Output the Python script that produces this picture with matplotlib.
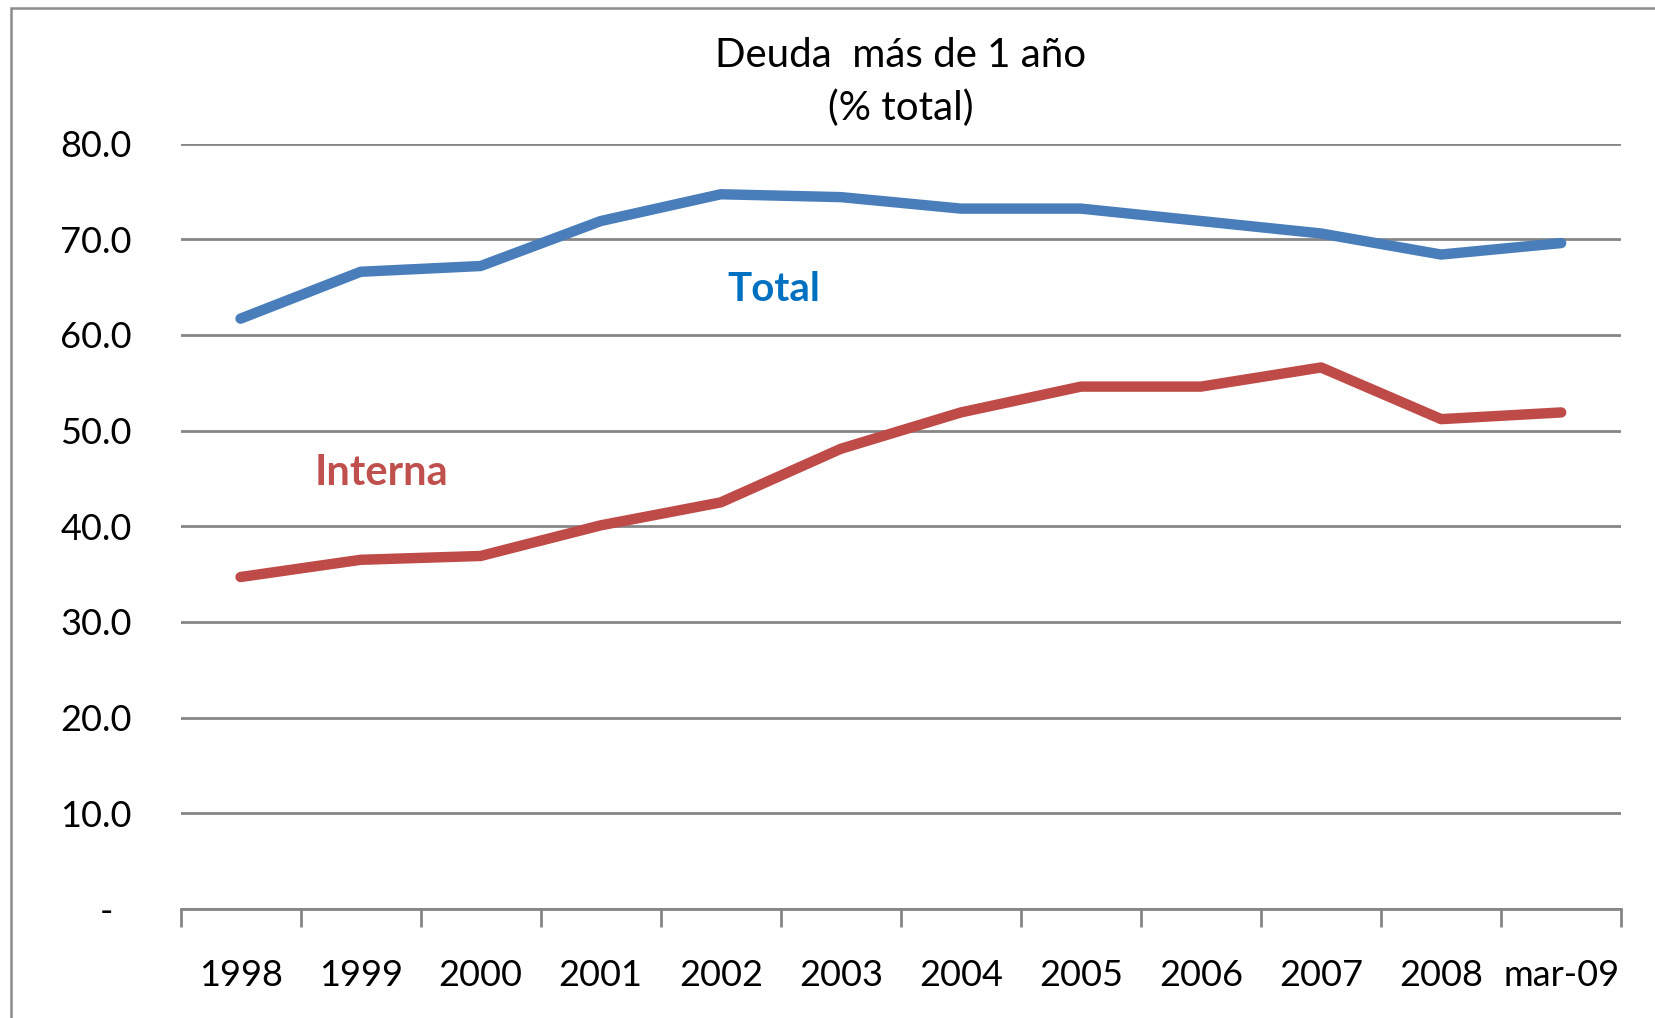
import numpy as np
import matplotlib

matplotlib.use("Agg")
import matplotlib.pyplot as plt  # noqa: E402
from matplotlib.patches import Rectangle  # noqa: E402

CATEGORIES = ["1998", "1999", "2000", "2001", "2002", "2003", "2004",
              "2005", "2006", "2007", "2008", "mar-09"]
TOTAL = [61.7, 66.6, 67.2, 71.9, 74.7, 74.4, 73.2, 73.2, 71.9, 70.6, 68.4, 69.6]
INTERNA = [34.7, 36.5, 36.9, 40.1, 42.5, 48.1, 51.9, 54.6, 54.6, 56.6, 51.2, 51.9]
YTICKS = [0, 10, 20, 30, 40, 50, 60, 70, 80]
YLABELS = ["-  ", "10.0", "20.0", "30.0", "40.0", "50.0", "60.0", "70.0", "80.0"]

GRID = "#868686"
BLUE = "#4A7EBB"
RED = "#BE4B48"

plt.rcParams.update({"font.family": ["Lato", "DejaVu Sans"], "font.size": 26})

fig = plt.figure(figsize=(16.56, 10.18), dpi=100)
ax = fig.add_axes([0.109, 0.107, 0.870, 0.752])

x = np.arange(len(CATEGORIES))
ax.plot(x, TOTAL, color=BLUE, lw=7.5, solid_capstyle="round", solid_joinstyle="round", zorder=3)
ax.plot(x, INTERNA, color=RED, lw=7.5, solid_capstyle="round", solid_joinstyle="round", zorder=3)

ax.set_xlim(-0.5, len(CATEGORIES) - 0.5)
ax.set_ylim(0, 80)

# y axis: labels only, gridlines in grey
ax.set_yticks(YTICKS)
ax.set_yticklabels(YLABELS)
ax.tick_params(axis="y", length=0, pad=35, labelsize=26)
ax.yaxis.grid(True, color=GRID, lw=2)
ax.set_axisbelow(True)

# x axis: tick marks at category boundaries, labels at centres
ax.set_xticks(np.arange(-0.5, len(CATEGORIES)))
ax.set_xticklabels([])
ax.set_xticks(x, minor=True)
ax.set_xticklabels(CATEGORIES, minor=True)
ax.tick_params(axis="x", which="major", length=13, width=2, color=GRID, direction="out")
ax.tick_params(axis="x", which="minor", length=0, pad=36, labelsize=26)

for s in ("top", "right", "left"):
    ax.spines[s].set_visible(False)
ax.spines["bottom"].set_color(GRID)
ax.spines["bottom"].set_linewidth(2)

ax.text(4.44, 64.7, "Total", color="#0070C0", fontsize=29, fontweight="bold",
        ha="center", va="center")
ax.text(1.17, 45.6, "Interna", color="#C0504D", fontsize=30, fontweight="bold",
        ha="center", va="center")

fig.text(0.544, 0.919, "Deuda  más de 1 año\n(% total)", ha="center", va="center",
         fontsize=29, linespacing=1.5)

fig.patches.append(Rectangle((0.0064, -0.05), 1.2, 0.9917 + 0.05, transform=fig.transFigure,
                             fill=False, edgecolor="#8C8C8C", lw=1.8))

fig.savefig("out.png", dpi=100)
